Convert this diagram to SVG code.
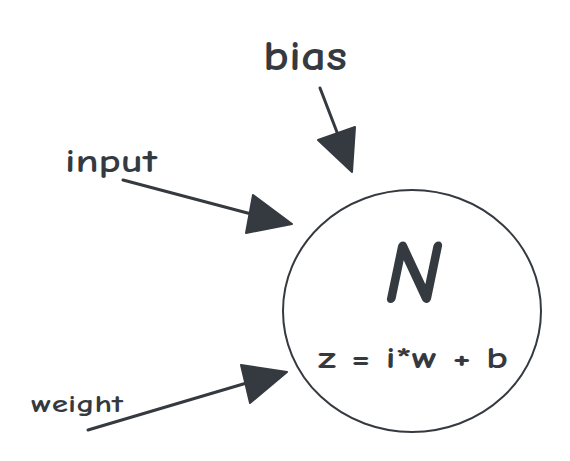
<svg xmlns="http://www.w3.org/2000/svg" width="570" height="461" viewBox="0 0 570 461">
<style>
.t{font-family:"Comic Neue","Open Sans","Liberation Sans",sans-serif;fill:#343a40;font-weight:bold}
.c{fill:none;stroke:#343a40;stroke-width:3;stroke-linecap:round}
.h{fill:#343a40;stroke:#343a40;stroke-width:2;stroke-linejoin:round}
</style>
<rect width="570" height="461" fill="#ffffff"/>
<g id="connectors">
<line class="c" x1="320" y1="88" x2="340" y2="140"/>
<polygon class="h" points="318,140 355,127 352,172"/>
<line class="c" x1="123" y1="180" x2="255" y2="215"/>
<polygon class="h" points="253,195 292,224 246,233"/>
<line class="c" x1="88" y1="430" x2="250" y2="382"/>
<polygon class="h" points="241,365 287,372 250,403"/>
</g>
<g id="neuron">
<ellipse cx="412" cy="311" rx="129" ry="121" fill="none" stroke="#343a40" stroke-width="2"/>
<text class="t" x="413" y="302" font-size="88" font-style="italic" text-anchor="middle">N</text>
<text class="t" x="318" y="368" font-size="30" textLength="190" lengthAdjust="spacingAndGlyphs">z = i*w + b</text>
</g>
<g id="bias"><text class="t" x="263" y="70" font-size="42" textLength="84" lengthAdjust="spacingAndGlyphs">bias</text></g>
<g id="input"><text class="t" x="65" y="172" font-size="32" textLength="92" lengthAdjust="spacingAndGlyphs">input</text></g>
<g id="weight"><text class="t" x="31" y="412" font-size="25" textLength="92" lengthAdjust="spacingAndGlyphs">weight</text></g>
</svg>
